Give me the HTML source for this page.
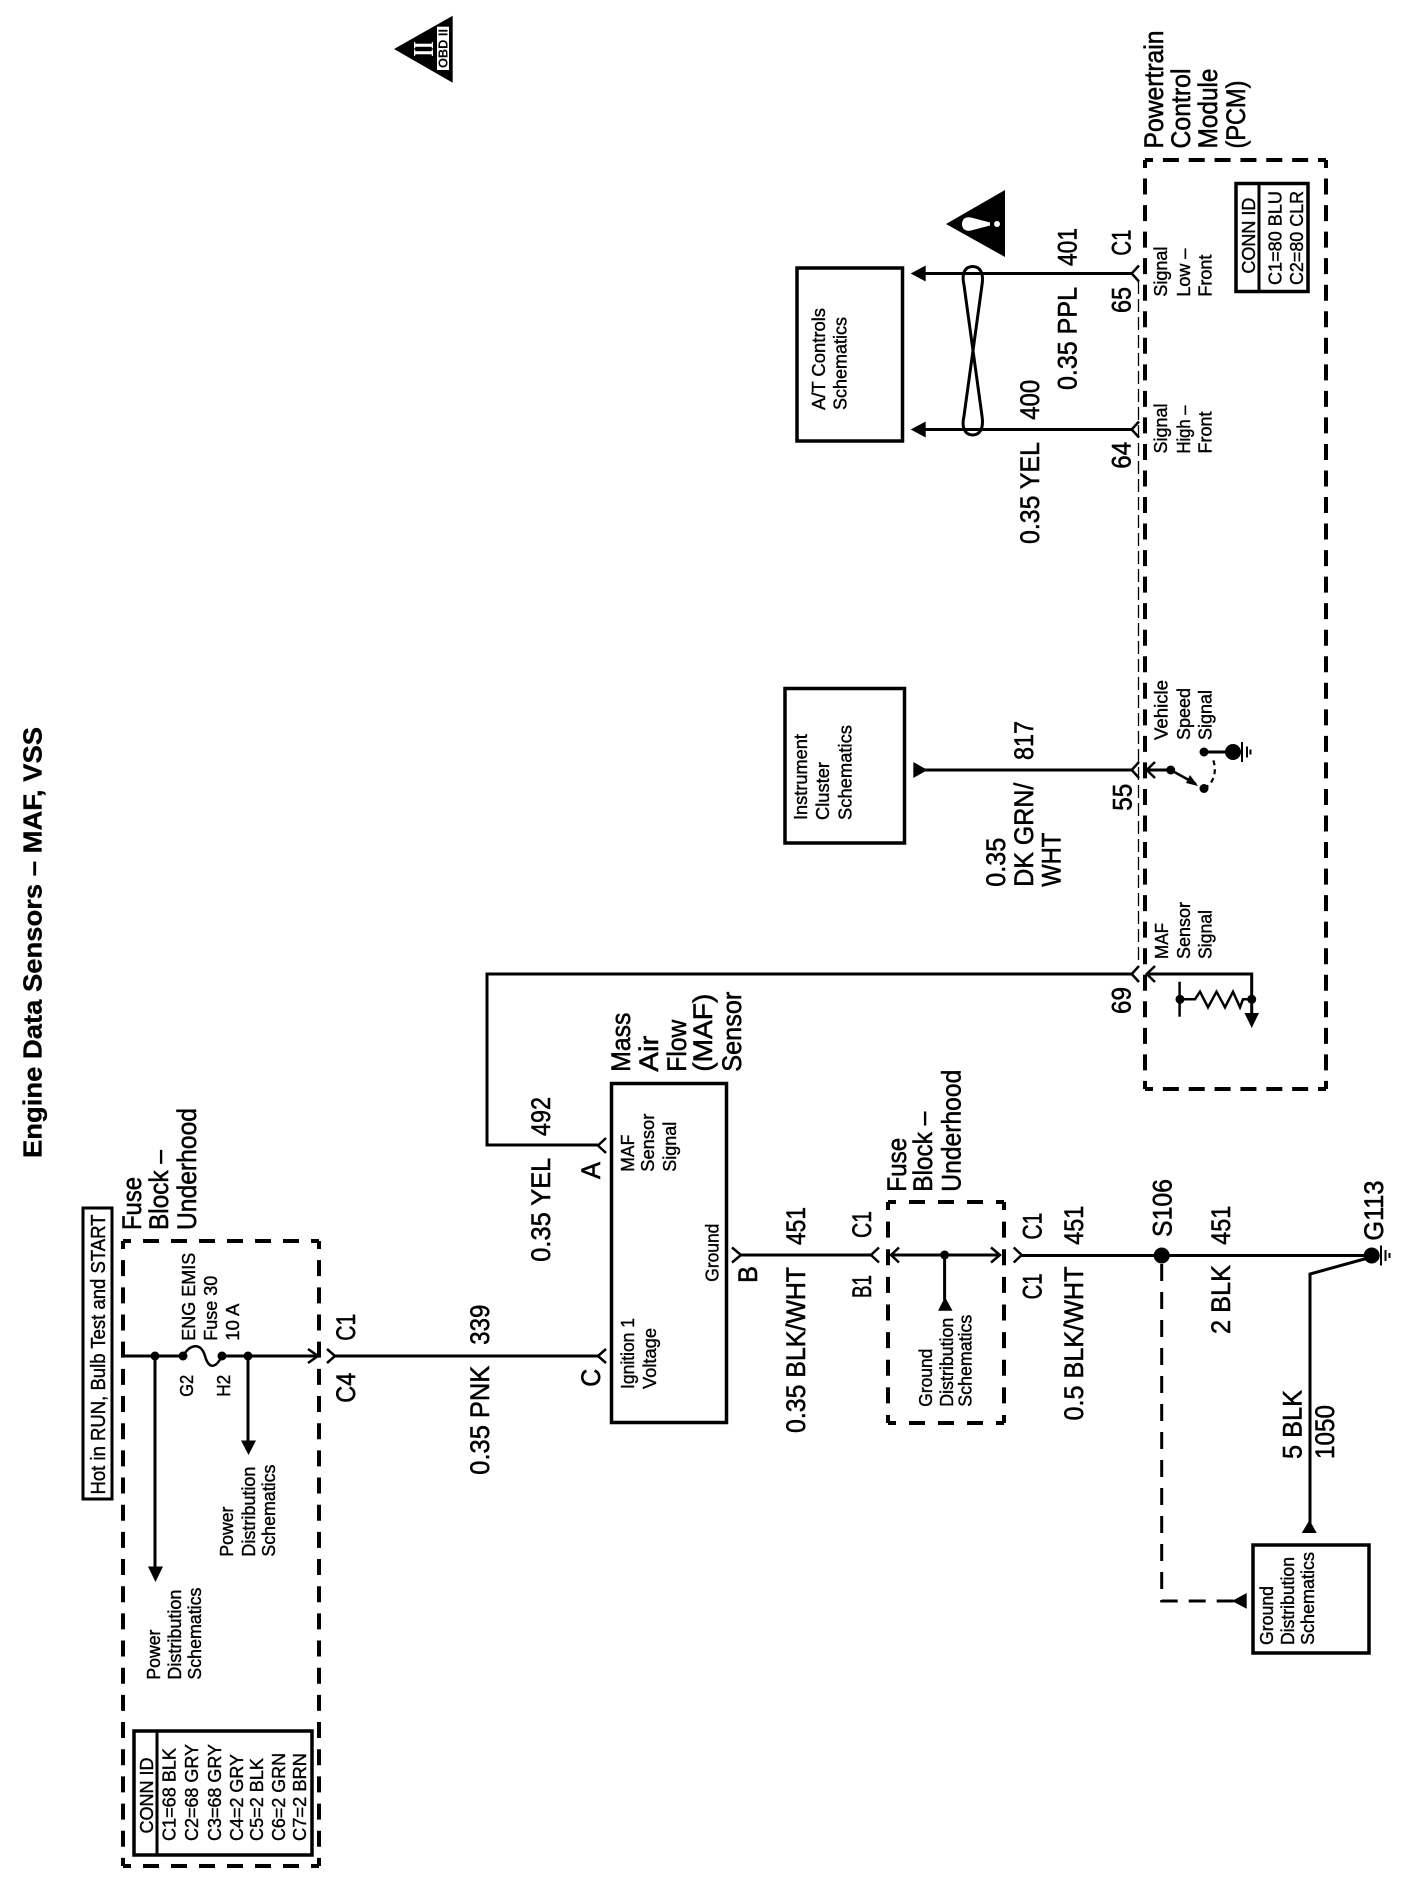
<!DOCTYPE html>
<html><head><meta charset="utf-8"><title>Engine Data Sensors – MAF, VSS</title>
<style>
html,body{margin:0;padding:0;background:#fff}
svg{display:block}
text{font-family:"Liberation Sans",sans-serif;fill:#000;stroke:#000;stroke-width:.4}
.L{font-size:26.5px;stroke-width:.55}
.S{font-size:18.5px;stroke-width:.4}
.T{font-size:26px;font-weight:bold;stroke-width:.3}
.w{fill:none;stroke:#000;stroke-width:3}
.c{fill:none;stroke:#000;stroke-width:2.5}
.b{fill:none;stroke:#000;stroke-width:3.5}
.d{fill:none;stroke:#000;stroke-width:4;stroke-dashoffset:8}
.a{fill:#000;stroke:none}
</style></head><body>
<svg xmlns="http://www.w3.org/2000/svg" width="1408" height="1878" viewBox="0 0 1408 1878">
<rect width="1408" height="1878" fill="#fff"/>

<!-- Title and OBD triangle -->
<text class="T" transform="translate(41.5 1158) rotate(-90)" textLength="431" lengthAdjust="spacingAndGlyphs">Engine Data Sensors – MAF, VSS</text>
<polygon class="a" points="394,49 452.7,15.7 452.7,82.7"/>
<rect x="437" y="26.7" width="12" height="43.3" fill="#fff"/>
<text transform="translate(447.5 68) rotate(-90)" style="font-size:13px;font-weight:bold;stroke-width:0" textLength="39" lengthAdjust="spacingAndGlyphs">OBD II</text>
<text transform="translate(433 56.5) rotate(-90)" style="font-family:'Liberation Serif',serif;font-size:29px;font-weight:bold;fill:#fff;stroke:none" textLength="15" lengthAdjust="spacingAndGlyphs">II</text>

<!-- Left fuse block -->
<rect x="83" y="1208" width="29" height="291" class="w"/>
<text class="S" style="font-size:20px" transform="translate(105 1494.5) rotate(-90)" textLength="280" lengthAdjust="spacingAndGlyphs">Hot in RUN, Bulb Test and START</text>
<text class="L" transform="translate(141 1230) rotate(-90)" textLength="53" lengthAdjust="spacingAndGlyphs">Fuse</text>
<text class="L" transform="translate(168 1230) rotate(-90)" textLength="80" lengthAdjust="spacingAndGlyphs">Block –</text>
<text class="L" transform="translate(196 1230) rotate(-90)" textLength="122" lengthAdjust="spacingAndGlyphs">Underhood</text>
<path class="d" stroke-dasharray="16 12" d="M123 1241H319M123 1866H319"/>
<path class="d" stroke-dasharray="16 11.17" d="M123 1241V1866M319 1241V1866"/>
<path class="w" d="M123 1356H183M222 1356H318"/>
<path class="c" d="M183 1356C190 1344 201 1342 205 1356C209 1370 216 1368 222 1356"/>
<circle class="a" cx="155" cy="1356" r="4.5"/><circle class="a" cx="183" cy="1356" r="4.5"/><circle class="a" cx="222" cy="1356" r="4.5"/><circle class="a" cx="248" cy="1356" r="4.5"/>
<path class="w" d="M155 1356V1570M248 1356V1445"/>
<polygon class="a" points="148,1566.5 163,1566.5 155.5,1582"/>
<polygon class="a" points="241,1440.5 256,1440.5 248.5,1455"/>
<path class="c" d="M308 1349L318 1356L308 1363M327 1349L335 1356L327 1363"/>
<path class="w" d="M335 1356H598"/>
<path class="c" d="M606 1349L598 1356L606 1363"/>
<text class="S" transform="translate(195 1340.7) rotate(-90)" textLength="88" lengthAdjust="spacingAndGlyphs">ENG EMIS</text>
<text class="S" transform="translate(217 1340.7) rotate(-90)" textLength="65" lengthAdjust="spacingAndGlyphs">Fuse 30</text>
<text class="S" transform="translate(239 1340.7) rotate(-90)" textLength="37" lengthAdjust="spacingAndGlyphs">10 A</text>
<text class="S" transform="translate(193 1396.8) rotate(-90)" textLength="22" lengthAdjust="spacingAndGlyphs">G2</text>
<text class="S" transform="translate(230 1396.8) rotate(-90)" textLength="22" lengthAdjust="spacingAndGlyphs">H2</text>
<text class="S" transform="translate(233 1556.6) rotate(-90)" textLength="50" lengthAdjust="spacingAndGlyphs">Power</text>
<text class="S" transform="translate(255 1556.6) rotate(-90)" textLength="90" lengthAdjust="spacingAndGlyphs">Distribution</text>
<text class="S" transform="translate(275 1556.6) rotate(-90)" textLength="92" lengthAdjust="spacingAndGlyphs">Schematics</text>
<text class="S" transform="translate(160 1679.6) rotate(-90)" textLength="50" lengthAdjust="spacingAndGlyphs">Power</text>
<text class="S" transform="translate(181 1679.6) rotate(-90)" textLength="90" lengthAdjust="spacingAndGlyphs">Distribution</text>
<text class="S" transform="translate(201 1679.6) rotate(-90)" textLength="92" lengthAdjust="spacingAndGlyphs">Schematics</text>
<rect x="134" y="1731" width="178" height="124" class="b"/>
<path class="w" d="M157 1731V1855"/>
<text class="S" transform="translate(153 1833.5) rotate(-90)" textLength="76" lengthAdjust="spacingAndGlyphs">CONN ID</text>
<text class="S" transform="translate(175.7 1841) rotate(-90)" textLength="93" lengthAdjust="spacingAndGlyphs">C1=68 BLK</text>
<text class="S" transform="translate(198 1841) rotate(-90)" textLength="97" lengthAdjust="spacingAndGlyphs">C2=68 GRY</text>
<text class="S" transform="translate(221 1841) rotate(-90)" textLength="97" lengthAdjust="spacingAndGlyphs">C3=68 GRY</text>
<text class="S" transform="translate(243 1841) rotate(-90)" textLength="87" lengthAdjust="spacingAndGlyphs">C4=2 GRY</text>
<text class="S" transform="translate(263 1841) rotate(-90)" textLength="83" lengthAdjust="spacingAndGlyphs">C5=2 BLK</text>
<text class="S" transform="translate(285 1841) rotate(-90)" textLength="88" lengthAdjust="spacingAndGlyphs">C6=2 GRN</text>
<text class="S" transform="translate(306 1841) rotate(-90)" textLength="88" lengthAdjust="spacingAndGlyphs">C7=2 BRN</text>
<text class="L" transform="translate(355 1340.7) rotate(-90)" textLength="27" lengthAdjust="spacingAndGlyphs">C1</text>
<text class="L" transform="translate(355 1402.7) rotate(-90)" textLength="30" lengthAdjust="spacingAndGlyphs">C4</text>
<text class="L" transform="translate(489 1344.7) rotate(-90)" textLength="40" lengthAdjust="spacingAndGlyphs">339</text>
<text class="L" transform="translate(489 1474.7) rotate(-90)" textLength="109" lengthAdjust="spacingAndGlyphs">0.35 PNK</text>

<!-- MAF sensor -->
<path class="w" d="M1131.7 974H487V1145H598"/>
<path class="c" d="M606 1138L598 1145.5L606 1153"/>
<rect x="611.5" y="1083.5" width="115" height="339" class="b"/>
<text class="L" transform="translate(630 1071.7) rotate(-90)" textLength="59" lengthAdjust="spacingAndGlyphs">Mass</text>
<text class="L" transform="translate(658 1071.7) rotate(-90)" textLength="36" lengthAdjust="spacingAndGlyphs">Air</text>
<text class="L" transform="translate(686 1071.7) rotate(-90)" textLength="52" lengthAdjust="spacingAndGlyphs">Flow</text>
<text class="L" transform="translate(712 1071.7) rotate(-90)" textLength="78" lengthAdjust="spacingAndGlyphs">(MAF)</text>
<text class="L" transform="translate(741 1071.7) rotate(-90)" textLength="80" lengthAdjust="spacingAndGlyphs">Sensor</text>
<text class="S" transform="translate(634 1171.7) rotate(-90)" textLength="37" lengthAdjust="spacingAndGlyphs">MAF</text>
<text class="S" transform="translate(654 1171.7) rotate(-90)" textLength="58" lengthAdjust="spacingAndGlyphs">Sensor</text>
<text class="S" transform="translate(676 1171.7) rotate(-90)" textLength="50" lengthAdjust="spacingAndGlyphs">Signal</text>
<text class="S" transform="translate(718.6 1281.7) rotate(-90)" textLength="58" lengthAdjust="spacingAndGlyphs">Ground</text>
<text class="S" transform="translate(634 1389) rotate(-90)" textLength="71" lengthAdjust="spacingAndGlyphs">Ignition 1</text>
<text class="S" transform="translate(656 1389) rotate(-90)" textLength="61" lengthAdjust="spacingAndGlyphs">Voltage</text>
<text class="L" transform="translate(600 1179) rotate(-90)" textLength="17" lengthAdjust="spacingAndGlyphs">A</text>
<text class="L" transform="translate(600 1386.7) rotate(-90)" textLength="18" lengthAdjust="spacingAndGlyphs">C</text>
<text class="L" transform="translate(757 1283) rotate(-90)" textLength="17" lengthAdjust="spacingAndGlyphs">B</text>
<text class="L" transform="translate(550 1136) rotate(-90)" textLength="39" lengthAdjust="spacingAndGlyphs">492</text>
<text class="L" transform="translate(550 1261.7) rotate(-90)" textLength="104" lengthAdjust="spacingAndGlyphs">0.35 YEL</text>

<!-- Ground wire -->
<path class="c" d="M732 1247.5L741 1255L732 1262.5"/>
<path class="w" d="M741 1255H871"/>
<path class="c" d="M879 1247.5L871 1255L879 1262.5"/>
<text class="L" transform="translate(805 1245) rotate(-90)" textLength="38" lengthAdjust="spacingAndGlyphs">451</text>
<text class="L" transform="translate(805 1433) rotate(-90)" textLength="166" lengthAdjust="spacingAndGlyphs">0.35 BLK/WHT</text>
<text class="L" transform="translate(871 1238) rotate(-90)" textLength="27" lengthAdjust="spacingAndGlyphs">C1</text>
<text class="L" transform="translate(871 1298) rotate(-90)" textLength="23" lengthAdjust="spacingAndGlyphs">B1</text>

<!-- Fuse block 2 -->
<path class="d" stroke-dasharray="16 13" d="M888 1202H1004M888 1423H1004"/>
<path class="d" stroke-dasharray="16 11.63" d="M888 1202V1423M1004 1202V1423"/>
<text class="L" transform="translate(906 1191.7) rotate(-90)" textLength="54" lengthAdjust="spacingAndGlyphs">Fuse</text>
<text class="L" transform="translate(932 1191.7) rotate(-90)" textLength="80" lengthAdjust="spacingAndGlyphs">Block –</text>
<text class="L" transform="translate(960.7 1191.7) rotate(-90)" textLength="122" lengthAdjust="spacingAndGlyphs">Underhood</text>
<path class="w" d="M891 1255H1000M944.6 1255V1300"/>
<path class="c" d="M899 1247.5L891 1255L899 1262.5M991 1247.5L1000 1255L991 1262.5"/>
<circle class="a" cx="944.6" cy="1255" r="4.5"/>
<polygon class="a" points="945,1297 938,1310.7 952.5,1310.7"/>
<text class="S" transform="translate(932 1406.7) rotate(-90)" textLength="58" lengthAdjust="spacingAndGlyphs">Ground</text>
<text class="S" transform="translate(953 1406.7) rotate(-90)" textLength="89" lengthAdjust="spacingAndGlyphs">Distribution</text>
<text class="S" transform="translate(971.4 1406.7) rotate(-90)" textLength="92" lengthAdjust="spacingAndGlyphs">Schematics</text>

<!-- Right ground -->
<path class="c" d="M1013.7 1247.5L1021.7 1255L1013.7 1262.5"/>
<path class="w" d="M1021.7 1255.5H1373M1368 1258L1310 1274V1525"/>
<circle class="a" cx="1161.7" cy="1255.5" r="8"/>
<circle class="a" cx="1371.7" cy="1255.5" r="8"/>
<path class="w" style="stroke-width:2" d="M1381 1245.5V1265.5M1385.5 1250V1261M1389.5 1253V1258"/>
<polygon class="a" points="1309.5,1520 1301.7,1533 1316.7,1533"/>
<path class="w" style="stroke-dasharray:17 11" d="M1161.7 1264V1601H1235"/>
<polygon class="a" points="1232,1601 1246.7,1593 1246.7,1608.7"/>
<rect x="1253" y="1545" width="116" height="108" class="b"/>
<text class="S" transform="translate(1273 1645) rotate(-90)" textLength="59" lengthAdjust="spacingAndGlyphs">Ground</text>
<text class="S" transform="translate(1294 1645) rotate(-90)" textLength="88" lengthAdjust="spacingAndGlyphs">Distribution</text>
<text class="S" transform="translate(1314 1645) rotate(-90)" textLength="93" lengthAdjust="spacingAndGlyphs">Schematics</text>
<text class="L" transform="translate(1041.7 1239.6) rotate(-90)" textLength="27" lengthAdjust="spacingAndGlyphs">C1</text>
<text class="L" transform="translate(1041.7 1299.4) rotate(-90)" textLength="26" lengthAdjust="spacingAndGlyphs">C1</text>
<text class="L" transform="translate(1083 1244.7) rotate(-90)" textLength="39" lengthAdjust="spacingAndGlyphs">451</text>
<text class="L" transform="translate(1083 1420.5) rotate(-90)" textLength="154" lengthAdjust="spacingAndGlyphs">0.5 BLK/WHT</text>
<text class="L" transform="translate(1171.7 1237) rotate(-90)" textLength="58" lengthAdjust="spacingAndGlyphs">S106</text>
<text class="L" transform="translate(1230 1244.7) rotate(-90)" textLength="39" lengthAdjust="spacingAndGlyphs">451</text>
<text class="L" transform="translate(1230 1334) rotate(-90)" textLength="69" lengthAdjust="spacingAndGlyphs">2 BLK</text>
<text class="L" transform="translate(1383 1240.6) rotate(-90)" textLength="60" lengthAdjust="spacingAndGlyphs">G113</text>
<text class="L" transform="translate(1301.7 1459) rotate(-90)" textLength="69" lengthAdjust="spacingAndGlyphs">5 BLK</text>
<text class="L" transform="translate(1334 1459) rotate(-90)" textLength="54" lengthAdjust="spacingAndGlyphs">1050</text>

<!-- PCM -->
<path class="d" stroke-dasharray="16 9.86" d="M1145 160H1326M1145 1089H1326"/>
<path class="d" stroke-dasharray="16 10.54" d="M1145 160V1089M1326 160V1089"/>
<text class="L" transform="translate(1163 148.5) rotate(-90)" textLength="118" lengthAdjust="spacingAndGlyphs">Powertrain</text>
<text class="L" transform="translate(1190 148.5) rotate(-90)" textLength="80" lengthAdjust="spacingAndGlyphs">Control</text>
<text class="L" transform="translate(1217 148.5) rotate(-90)" textLength="80" lengthAdjust="spacingAndGlyphs">Module</text>
<text class="L" transform="translate(1245 148.5) rotate(-90)" textLength="68" lengthAdjust="spacingAndGlyphs">(PCM)</text>
<rect x="1236" y="183.5" width="72" height="108" class="b"/>
<path class="w" d="M1259 183.5V291.5"/>
<text class="S" transform="translate(1255 273.6) rotate(-90)" textLength="76" lengthAdjust="spacingAndGlyphs">CONN ID</text>
<text class="S" transform="translate(1281.7 285) rotate(-90)" textLength="94" lengthAdjust="spacingAndGlyphs">C1=80 BLU</text>
<text class="S" transform="translate(1303 285) rotate(-90)" textLength="94" lengthAdjust="spacingAndGlyphs">C2=80 CLR</text>
<text class="S" transform="translate(1167 296.6) rotate(-90)" textLength="50" lengthAdjust="spacingAndGlyphs">Signal</text>
<text class="S" transform="translate(1190 296.6) rotate(-90)" textLength="48" lengthAdjust="spacingAndGlyphs">Low –</text>
<text class="S" transform="translate(1211.7 296.6) rotate(-90)" textLength="42" lengthAdjust="spacingAndGlyphs">Front</text>
<text class="S" transform="translate(1167 453.5) rotate(-90)" textLength="50" lengthAdjust="spacingAndGlyphs">Signal</text>
<text class="S" transform="translate(1190 453.5) rotate(-90)" textLength="48" lengthAdjust="spacingAndGlyphs">High –</text>
<text class="S" transform="translate(1211.7 453.5) rotate(-90)" textLength="42" lengthAdjust="spacingAndGlyphs">Front</text>
<text class="L" transform="translate(1130.7 255.6) rotate(-90)" textLength="26" lengthAdjust="spacingAndGlyphs">C1</text>
<text class="L" transform="translate(1130.7 313) rotate(-90)" textLength="26" lengthAdjust="spacingAndGlyphs">65</text>
<text class="L" transform="translate(1130.7 468.8) rotate(-90)" textLength="27" lengthAdjust="spacingAndGlyphs">64</text>
<text class="L" transform="translate(1076.7 266) rotate(-90)" textLength="38" lengthAdjust="spacingAndGlyphs">401</text>
<text class="L" transform="translate(1076.7 390) rotate(-90)" textLength="103" lengthAdjust="spacingAndGlyphs">0.35 PPL</text>
<text class="L" transform="translate(1039 419.8) rotate(-90)" textLength="40" lengthAdjust="spacingAndGlyphs">400</text>
<text class="L" transform="translate(1039 544) rotate(-90)" textLength="102" lengthAdjust="spacingAndGlyphs">0.35 YEL</text>

<path fill="none" stroke="#000" stroke-width="1.3" stroke-dasharray="13 5" d="M1138.5 281V962"/>
<path class="w" d="M925 273.5H1131.7M925 429.5H1131.7"/>
<path class="c" d="M1139 265.5L1131.7 273.5L1139 281.5M1139 421.5L1131.7 429.5L1139 437.5"/>
<polygon class="a" points="910.7,273.5 925.7,265.5 925.7,281.5"/>
<polygon class="a" points="910.7,429.5 925.7,421.5 925.7,437.5"/>
<path fill="none" stroke="#000" stroke-width="3" d="M964 285C961 272 966 266.5 972.7 266.5C979.5 266.5 984 272 982 285L964 416C961 429 966 435 972.7 435C979.5 435 984 429 982 416Z"/>
<polygon class="a" points="946,224 1005,190 1005,257"/>
<path fill="#fff" d="M962 224C962 218 967 216.5 971 217.5L990 222.5V225.5L971 230.5C967 231.5 962 230 962 224Z"/>
<circle cx="997" cy="224" r="3" fill="#fff"/>

<rect x="797" y="268" width="105.5" height="173" class="b"/>
<text class="S" transform="translate(825 410) rotate(-90)" textLength="102" lengthAdjust="spacingAndGlyphs">A/T Controls</text>
<text class="S" transform="translate(846.7 410) rotate(-90)" textLength="93" lengthAdjust="spacingAndGlyphs">Schematics</text>

<!-- Cluster -->
<rect x="785" y="688.5" width="119.5" height="154.5" class="b"/>
<text class="S" transform="translate(807 820) rotate(-90)" textLength="86" lengthAdjust="spacingAndGlyphs">Instrument</text>
<text class="S" transform="translate(829 820) rotate(-90)" textLength="58" lengthAdjust="spacingAndGlyphs">Cluster</text>
<text class="S" transform="translate(851.7 820) rotate(-90)" textLength="95" lengthAdjust="spacingAndGlyphs">Schematics</text>
<polygon class="a" points="913.3,762 913.3,778 927.5,770"/>
<path class="w" d="M925 770H1131.7"/>
<path class="c" d="M1139 762L1131.7 770L1139 778"/>
<text class="L" transform="translate(1033 760) rotate(-90)" textLength="39" lengthAdjust="spacingAndGlyphs">817</text>
<text class="L" transform="translate(1033 886.7) rotate(-90)" textLength="104" lengthAdjust="spacingAndGlyphs">DK GRN/</text>
<text class="L" transform="translate(1005 886.7) rotate(-90)" textLength="49" lengthAdjust="spacingAndGlyphs">0.35</text>
<text class="L" transform="translate(1060.7 886.7) rotate(-90)" textLength="54" lengthAdjust="spacingAndGlyphs">WHT</text>
<text class="L" transform="translate(1131.7 810.7) rotate(-90)" textLength="27" lengthAdjust="spacingAndGlyphs">55</text>

<!-- Vehicle speed switch -->
<path class="c" d="M1155 762L1146.7 770L1155 778"/>
<path class="w" d="M1147 770H1170.7"/>
<path class="c" d="M1170.7 770L1196 784"/>
<polygon class="a" points="1198,786 1186,783 1190,775"/>
<circle class="a" cx="1170.7" cy="770" r="4.5"/>
<circle class="a" cx="1204" cy="788.5" r="4.5"/>
<circle class="a" cx="1204" cy="752" r="4.5"/>
<path fill="none" stroke="#000" stroke-width="2.2" stroke-dasharray="5 4" d="M1204 788C1214 784 1218 770 1212 757"/>
<path class="w" d="M1204 752H1233"/>
<circle class="a" cx="1233" cy="752" r="8"/>
<path class="w" style="stroke-width:2" d="M1242 742V762M1247 746.5V757.5M1250.5 749.5V754.5"/>
<text class="S" transform="translate(1167.5 740) rotate(-90)" textLength="60" lengthAdjust="spacingAndGlyphs">Vehicle</text>
<text class="S" transform="translate(1190 740) rotate(-90)" textLength="52" lengthAdjust="spacingAndGlyphs">Speed</text>
<text class="S" transform="translate(1211.7 740) rotate(-90)" textLength="50" lengthAdjust="spacingAndGlyphs">Signal</text>

<!-- MAF signal in PCM -->
<path class="c" d="M1139 966L1131.7 974L1139 982M1155 966L1146.7 974L1155 982"/>
<path class="w" d="M1147 974H1251.7V1016"/>
<polygon class="a" points="1244.5,1013 1259,1013 1251.7,1028"/>
<circle class="a" cx="1251.7" cy="999.3" r="4.5"/>
<circle class="a" cx="1180" cy="999.3" r="4.5"/>
<path class="c" d="M1179.6 981.7V1016.7"/>
<path class="c" d="M1180 999.3H1195L1200 991.7L1208 1007.3L1216.5 991.7L1225 1007.3L1233 991.7L1240 1007.3L1243 999.3H1251.7"/>
<text class="S" transform="translate(1168 959) rotate(-90)" textLength="36" lengthAdjust="spacingAndGlyphs">MAF</text>
<text class="S" transform="translate(1190 959) rotate(-90)" textLength="57" lengthAdjust="spacingAndGlyphs">Sensor</text>
<text class="S" transform="translate(1211.7 959) rotate(-90)" textLength="49" lengthAdjust="spacingAndGlyphs">Signal</text>
<text class="L" transform="translate(1130.7 1014) rotate(-90)" textLength="27" lengthAdjust="spacingAndGlyphs">69</text>
</svg>
</body></html>
